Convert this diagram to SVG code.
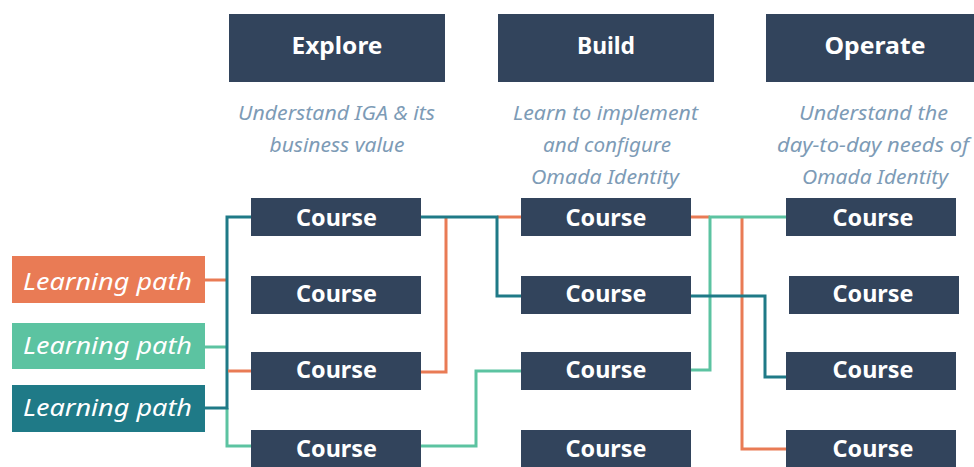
<svg xmlns="http://www.w3.org/2000/svg" width="974" height="467" viewBox="0 0 974 467">
<style>
.hdr{fill:#32445c}
.crs{fill:#32445c}
.ht{font-family:"Noto Sans","Liberation Sans",sans-serif;font-weight:bold;font-size:24px;fill:#fff;text-anchor:middle}
.ct{font-family:"Noto Sans","Liberation Sans",sans-serif;font-weight:bold;font-size:23px;fill:#fff;text-anchor:middle}
.st{font-family:"Noto Sans","Liberation Sans",sans-serif;font-style:italic;font-size:19px;fill:#7d9bb6;text-anchor:middle}
.lt{font-family:"Noto Sans","Liberation Sans",sans-serif;font-style:italic;font-size:24px;fill:#fff;text-anchor:middle}
.c{fill:none;stroke-width:3}
.o{stroke:#e97b55}.g{stroke:#5cc3a1}.t{stroke:#1f7a87}
</style>
<g id="connectors">
<polyline class="c o" points="205,280 228,280"/>
<polyline class="c g" points="205,347 228,347"/>
<polyline class="c g" points="227,408 227,446 251,446"/>
<polyline class="c t" points="205,408 227,408 227,217 251,217"/>
<polyline class="c o" points="228,371 251,371"/>
<polyline class="c o" points="421,372 446,372 446,217"/>
<polyline class="c o" points="497,217 521,217"/>
<polyline class="c t" points="421,217 497,217 497,296 521,296"/>
<polyline class="c g" points="421,446 476,446 476,371 521,371"/>
<polyline class="c o" points="691,217 710,217"/>
<polyline class="c o" points="742,217 742,449 786,449"/>
<polyline class="c g" points="691,370 710,370 710,217 786,217"/>
<polyline class="c t" points="691,296 765,296 765,377 786,377"/>
</g>
<g id="explore"><rect class="hdr" x="229" y="14" width="216" height="68"/><text class="ht" x="337" y="54" textLength="91" lengthAdjust="spacingAndGlyphs">Explore</text>
<text class="st" x="336.5" y="120" textLength="197" lengthAdjust="spacingAndGlyphs">Understand IGA &amp; its</text><text class="st" x="337" y="152" textLength="135" lengthAdjust="spacingAndGlyphs">business value</text></g>
<g id="build"><rect class="hdr" x="498" y="14" width="216" height="68"/><text class="ht" x="606" y="54" textLength="58" lengthAdjust="spacingAndGlyphs">Build</text>
<text class="st" x="605.5" y="120" textLength="185" lengthAdjust="spacingAndGlyphs">Learn to implement</text><text class="st" x="607" y="152" textLength="128" lengthAdjust="spacingAndGlyphs">and configure</text><text class="st" x="605" y="184" textLength="148" lengthAdjust="spacingAndGlyphs">Omada Identity</text></g>
<g id="operate"><rect class="hdr" x="766" y="14" width="208" height="68"/><text class="ht" x="875" y="54" textLength="101" lengthAdjust="spacingAndGlyphs">Operate</text>
<text class="st" x="873.5" y="120" textLength="149" lengthAdjust="spacingAndGlyphs">Understand the</text><text class="st" x="873" y="152" textLength="192" lengthAdjust="spacingAndGlyphs">day-to-day needs of</text><text class="st" x="875" y="184" textLength="146" lengthAdjust="spacingAndGlyphs">Omada Identity</text></g>
<g id="lp-orange"><rect x="12" y="256" width="193" height="47" fill="#e97b55"/><text class="lt" x="107.5" y="290" textLength="169" lengthAdjust="spacingAndGlyphs">Learning path</text></g>
<g id="lp-green"><rect x="12" y="323" width="193" height="46" fill="#5cc3a1"/><text class="lt" x="107.5" y="354" textLength="169" lengthAdjust="spacingAndGlyphs">Learning path</text></g>
<g id="lp-teal"><rect x="12" y="385" width="193" height="47" fill="#1f7a87"/><text class="lt" x="107.5" y="416" textLength="169" lengthAdjust="spacingAndGlyphs">Learning path</text></g>
<g id="e1"><rect class="crs" x="251" y="198" width="170" height="38"/><text class="ct" x="336.5" y="226" textLength="81" lengthAdjust="spacingAndGlyphs">Course</text></g>
<g id="e2"><rect class="crs" x="251" y="276" width="170" height="38"/><text class="ct" x="336.5" y="302" textLength="81" lengthAdjust="spacingAndGlyphs">Course</text></g>
<g id="e3"><rect class="crs" x="251" y="352" width="170" height="38"/><text class="ct" x="336.5" y="378" textLength="81" lengthAdjust="spacingAndGlyphs">Course</text></g>
<g id="e4"><rect class="crs" x="251" y="430" width="170" height="37"/><text class="ct" x="336.5" y="457" textLength="81" lengthAdjust="spacingAndGlyphs">Course</text></g>
<g id="b1"><rect class="crs" x="521" y="198" width="170" height="38"/><text class="ct" x="606" y="226" textLength="81" lengthAdjust="spacingAndGlyphs">Course</text></g>
<g id="b2"><rect class="crs" x="521" y="276" width="170" height="38"/><text class="ct" x="606" y="302" textLength="81" lengthAdjust="spacingAndGlyphs">Course</text></g>
<g id="b3"><rect class="crs" x="521" y="352" width="170" height="38"/><text class="ct" x="606" y="378" textLength="81" lengthAdjust="spacingAndGlyphs">Course</text></g>
<g id="b4"><rect class="crs" x="521" y="430" width="170" height="37"/><text class="ct" x="606" y="457" textLength="81" lengthAdjust="spacingAndGlyphs">Course</text></g>
<g id="o1"><rect class="crs" x="786" y="198" width="170" height="38"/><text class="ct" x="873" y="226" textLength="81" lengthAdjust="spacingAndGlyphs">Course</text></g>
<g id="o2"><rect class="crs" x="789" y="276" width="170" height="38"/><text class="ct" x="873" y="302" textLength="81" lengthAdjust="spacingAndGlyphs">Course</text></g>
<g id="o3"><rect class="crs" x="786" y="352" width="170" height="38"/><text class="ct" x="873" y="378" textLength="81" lengthAdjust="spacingAndGlyphs">Course</text></g>
<g id="o4"><rect class="crs" x="786" y="430" width="170" height="37"/><text class="ct" x="873" y="457" textLength="81" lengthAdjust="spacingAndGlyphs">Course</text></g>
</svg>
